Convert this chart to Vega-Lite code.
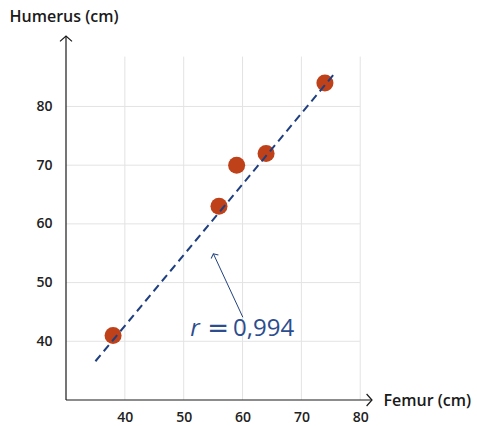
{
  "$schema": "https://vega.github.io/schema/vega-lite/v6.json",
  "width": 306,
  "height": 364,
  "autosize": {"type": "none"},
  "padding": {"left": 66, "top": 36, "right": 105, "bottom": 26},
  "background": "white",
  "config": {
    "view": {"stroke": null},
    "font": "Open Sans",
    "axis": {
      "values": [40, 50, 60, 70, 80], "domain": false, "ticks": false, "grid": false,
      "labelFont": "Open Sans", "labelFontSize": 14, "labelFontWeight": 600, "labelColor": "#222222",
      "titleFont": "Open Sans", "titleFontSize": 16, "titleFontWeight": 600, "titleColor": "#1a1a1a",
      "titleAngle": 0, "titleAlign": "left", "titleBaseline": "middle"
    },
    "axisX": {"labelPadding": 10, "titleX": 317, "titleY": 0},
    "axisY": {"labelPadding": 14, "titleX": -57, "titleY": -20}
  },
  "datasets": {
    "bones": [
      {"femur": 38, "humerus": 41},
      {"femur": 56, "humerus": 63},
      {"femur": 59, "humerus": 70},
      {"femur": 64, "humerus": 72},
      {"femur": 74, "humerus": 84}
    ],
    "fit": [
      {"femur": 35, "humerus": 36.6},
      {"femur": 75.7, "humerus": 85.7}
    ],
    "grid": [{"v": 40}, {"v": 50}, {"v": 60}, {"v": 70}, {"v": 80}]
  },
  "layer": [
    {
      "data": {"name": "grid"},
      "mark": {"type": "rule", "color": "#e3e3e3", "strokeWidth": 1},
      "encoding": {
        "x": {
          "field": "v", "type": "quantitative",
          "scale": {"domain": [30, 82], "nice": false, "zero": false},
          "axis": {"title": "Femur (cm)", "values": [40, 50, 60, 70, 80], "grid": false}
        },
        "y": {
          "datum": 30, "type": "quantitative",
          "scale": {"domain": [30, 92], "nice": false, "zero": false},
          "axis": {"title": "Humerus (cm)", "values": [40, 50, 60, 70, 80], "grid": false}
        },
        "y2": {"datum": 88.5}
      }
    },
    {
      "data": {"name": "grid"},
      "mark": {"type": "rule", "color": "#e3e3e3", "strokeWidth": 1},
      "encoding": {
        "y": {"field": "v", "type": "quantitative"},
        "x": {"datum": 30, "type": "quantitative"},
        "x2": {"datum": 80}
      }
    },
    {
      "data": {"values": [{}]},
      "mark": {"type": "rule", "color": "#1a1a1a", "strokeWidth": 1.2},
      "encoding": {
        "x": {"datum": 30, "type": "quantitative"},
        "x2": {"datum": 82},
        "y": {"datum": 30, "type": "quantitative"}
      }
    },
    {
      "data": {"values": [{}]},
      "mark": {"type": "rule", "color": "#1a1a1a", "strokeWidth": 1.2},
      "encoding": {
        "x": {"datum": 30, "type": "quantitative"},
        "y": {"datum": 30, "type": "quantitative"},
        "y2": {"datum": 92}
      }
    },
    {
      "data": {"values": [{}]},
      "mark": {"type": "point", "shape": "M -0.9 -1 L 0 0 L -0.9 1", "filled": false, "stroke": "#1a1a1a", "strokeWidth": 1.2, "size": 144, "opacity": 1},
      "encoding": {
        "x": {"datum": 82, "type": "quantitative"},
        "y": {"datum": 30, "type": "quantitative"}
      }
    },
    {
      "data": {"values": [{}]},
      "mark": {"type": "point", "shape": "M -0.9 -1 L 0 0 L -0.9 1", "filled": false, "stroke": "#1a1a1a", "strokeWidth": 1.2, "size": 144, "angle": 270, "opacity": 1},
      "encoding": {
        "x": {"datum": 30, "type": "quantitative"},
        "y": {"datum": 92, "type": "quantitative"}
      }
    },
    {
      "data": {"name": "bones"},
      "mark": {"type": "circle", "color": "#bf4119", "size": 290, "opacity": 1},
      "encoding": {
        "x": {"field": "femur", "type": "quantitative"},
        "y": {"field": "humerus", "type": "quantitative"}
      }
    },
    {
      "data": {"name": "fit"},
      "mark": {"type": "line", "color": "#1f3f80", "strokeWidth": 2, "strokeDash": [8, 5]},
      "encoding": {
        "x": {"field": "femur", "type": "quantitative"},
        "y": {"field": "humerus", "type": "quantitative"}
      }
    },
    {
      "data": {"values": [{}]},
      "mark": {"type": "rule", "color": "#23427f", "strokeWidth": 1},
      "encoding": {
        "x": {"datum": 60.05, "type": "quantitative"},
        "y": {"datum": 44.1, "type": "quantitative"},
        "x2": {"datum": 55.05},
        "y2": {"datum": 54.9}
      }
    },
    {
      "data": {"values": [{}]},
      "mark": {"type": "point", "shape": "M -0.8 -1 L 0 0 L -0.8 1", "filled": false, "stroke": "#23427f", "strokeWidth": 1, "size": 64, "angle": 245, "opacity": 1},
      "encoding": {
        "x": {"datum": 55.05, "type": "quantitative"},
        "y": {"datum": 54.9, "type": "quantitative"}
      }
    },
    {
      "data": {"values": [{"t": "r"}]},
      "mark": {"type": "text", "font": "Open Sans", "fontSize": 24, "fontStyle": "italic", "color": "#2c4d8e", "align": "center", "baseline": "alphabetic"},
      "encoding": {
        "x": {"datum": 51.9, "type": "quantitative"},
        "y": {"datum": 40.9, "type": "quantitative"},
        "text": {"field": "t"}
      }
    },
    {
      "data": {"values": [{"t": "="}]},
      "mark": {"type": "text", "font": "DejaVu Sans", "fontSize": 26, "color": "#2c4d8e", "align": "center", "baseline": "alphabetic"},
      "encoding": {
        "x": {"datum": 55.85, "type": "quantitative"},
        "y": {"datum": 40.7, "type": "quantitative"},
        "text": {"field": "t"}
      }
    },
    {
      "data": {"values": [{"t": "0,994"}]},
      "mark": {"type": "text", "font": "Open Sans", "fontSize": 24, "color": "#2c4d8e", "align": "left", "baseline": "alphabetic"},
      "encoding": {
        "x": {"datum": 58.4, "type": "quantitative"},
        "y": {"datum": 40.9, "type": "quantitative"},
        "text": {"field": "t"}
      }
    }
  ]
}
